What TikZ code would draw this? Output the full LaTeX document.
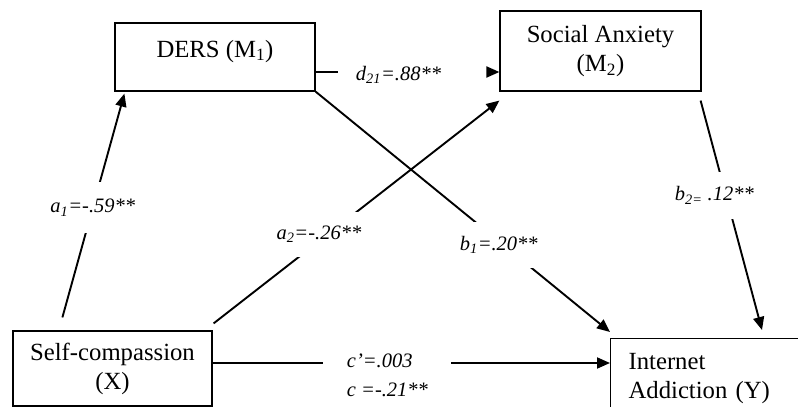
\documentclass[tikz,border=0pt]{standalone}
\usepackage{fontspec}
\setmainfont{Liberation Serif}
\usetikzlibrary{arrows.meta}
\begin{document}
\begin{tikzpicture}[x=1pt,y=-1pt,
  boxst/.style={draw,line width=1.2pt,align=center,inner sep=0pt,font=\fontsize{24.7}{29}\selectfont},
  conn/.style={line width=1.9pt},
  arr/.style={conn,-{Triangle[length=13pt,width=11pt]}},
  lab/.style={fill=white,inner xsep=2pt,font=\fontsize{20.5}{29}\selectfont\itshape}]
\useasboundingbox (0,0) rectangle (798,407);
\fill[white] (0,0) rectangle (798,407);
% boxes
\node[boxst,minimum width=200pt,minimum height=68pt,text height=18pt,text depth=18pt] (ders) at (215,57) {DERS (M\textsubscript{1})};
\node[boxst,minimum width=201pt,minimum height=80pt] (sa) at (600.5,51) {Social Anxiety\\(M\textsubscript{2})};
\node[boxst,minimum width=199pt,minimum height=75pt] (sc) at (112.5,368.5) {Self-compassion\\(X)};
\begin{scope}
\clip (0,0) rectangle (798,407);
\node[boxst,anchor=north west,align=left,text width=190pt,inner xsep=18pt,inner ysep=15pt] (ia) at (610,338) {Internet\\Addiction (Y)};
\end{scope}
% coordinates
\coordinate (dA) at (338,72);
\coordinate (dB) at (487,72);
\coordinate (cy) at (0,363);
% connectors
\draw[arr] ([xshift=50pt,yshift=13pt]sc.north west) -- ([xshift=10pt,yshift=-2pt]ders.south west)
  node[lab,pos=0.49,inner ysep=17pt] (a1) {a\textsubscript{1}=-.59**};
\draw[arr] ([xshift=1pt,yshift=7pt]sc.north east) -- ([yshift=-9pt]sa.south west)
  node[lab,pos=0.40,xshift=-9pt,inner ysep=14pt] (a2) {a\textsubscript{2}=-.26**};
\draw[arr] (ders.south east) -- ([yshift=6pt]ia.north west)
  node[lab,pos=0.6375,xshift=-4.5pt,inner ysep=14pt] (b1) {b\textsubscript{1}=.20**};
\draw[arr] ([xshift=-1pt,yshift=-9pt]sa.south east) -- ([xshift=152pt,yshift=8pt]ia.north west)
  node[lab,pos=0.413,xshift=-11.6pt,inner ysep=14.5pt] (b2) {b\textsubscript{2=} .12**};
\draw[conn] (ders.east |- dA) -- (dA);
\draw[arr] (dB) -- (sa.west |- dB);
\node[lab,fill=none] (d21) at (398.5,75) {d\textsubscript{21}=.88**};
\draw[arr] (sc.east |- cy) -- (ia.west |- cy)
  node[lab,pos=0.44,yshift=-12pt,inner xsep=23.5pt,align=left] (c) {c'=.003\\c =-.21**};
\end{tikzpicture}
\end{document}
